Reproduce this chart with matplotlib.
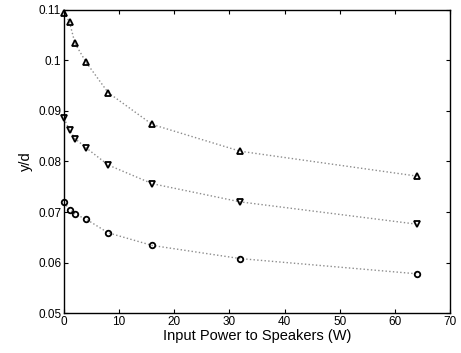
import numpy as np
import matplotlib
matplotlib.use('Agg')
import matplotlib.pyplot as plt

# Input power (W) and measured y/d for the three cases
power = [0, 1, 2, 4, 8, 16, 32, 64]
yd_up = [0.1094, 0.1075, 0.1033, 0.0996, 0.0936, 0.0873, 0.0820, 0.0771]
yd_down = [0.0885, 0.0862, 0.0845, 0.0827, 0.0793, 0.0756, 0.0720, 0.0676]
yd_circ = [0.0719, 0.0705, 0.0696, 0.0686, 0.0659, 0.0634, 0.0608, 0.0578]

xticks = [0, 10, 20, 30, 40, 50, 60, 70]
yticks = [0.05, 0.06, 0.07, 0.08, 0.09, 0.1, 0.11]
ytick_labels = ['0.05', '0.06', '0.07', '0.08', '0.09', '0.1', '0.11']

plt.rcParams['font.family'] = ['Liberation Sans', 'DejaVu Sans']
fig = plt.figure(figsize=(4.61, 3.53), dpi=100)
ax = fig.add_axes([0.1388, 0.1125, 0.8372, 0.8605])

for y, m, ms in [(yd_up, '^', 5), (yd_down, 'v', 5), (yd_circ, 'o', 4)]:
    ax.plot(power, y, linestyle=':', color='0.55', linewidth=1.0)
    ax.plot(power, y, linestyle='none', marker=m, markersize=ms,
            markerfacecolor='none', markeredgecolor='black',
            markeredgewidth=1.3, clip_on=False)

ax.set_xlim(0, 70)
ax.set_ylim(0.05, 0.11)
ax.set_xticks(xticks)
ax.set_yticks(yticks)
ax.set_yticklabels(ytick_labels)
ax.tick_params(direction='in', top=True, right=True, labelsize=8.5,
               length=3, width=0.8, pad=2, colors='black')
for s in ax.spines.values():
    s.set_linewidth(1.0)
ax.set_xlabel('Input Power to Speakers (W)', fontsize=10.5, labelpad=1)
ax.set_ylabel('y/d', fontsize=10.5, labelpad=4)

fig.savefig('out.png', dpi=100)
